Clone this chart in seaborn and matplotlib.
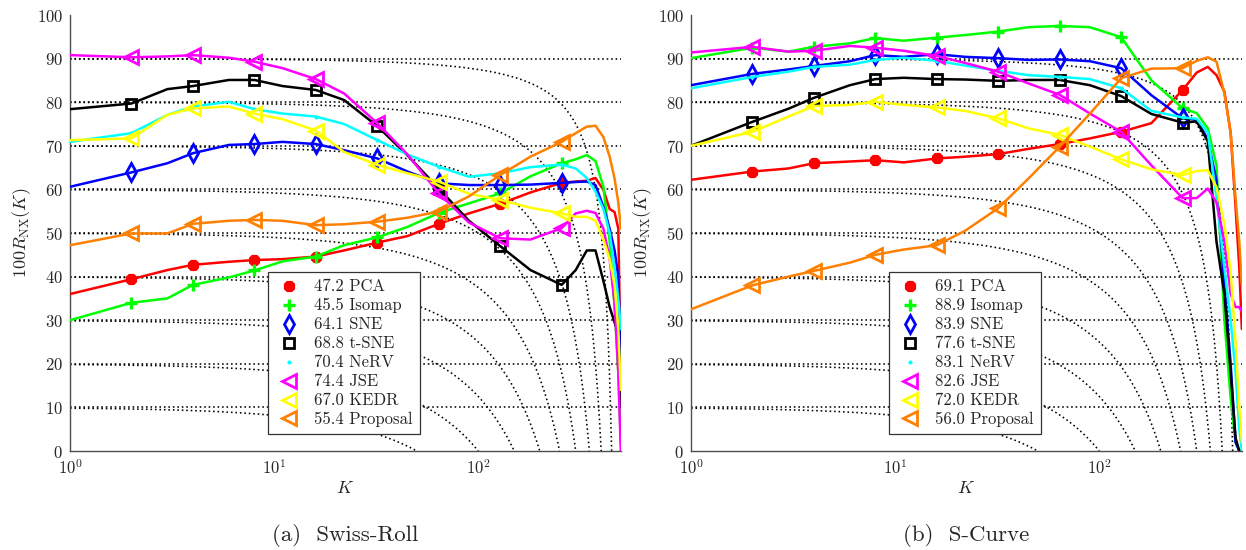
import numpy as np
import matplotlib
matplotlib.use("Agg")
import matplotlib.pyplot as plt
from matplotlib.lines import Line2D
from matplotlib.ticker import LogLocator, NullFormatter, FixedLocator
import seaborn as sns

# Neighbourhood sizes K at which the quality curves are sampled
K = [1, 2, 3, 4, 6, 8, 11, 16, 22, 32, 45, 64, 90, 128, 180, 256,
     300, 340, 375, 410, 440, 465, 485, 499]
MARKED_K = [2, 4, 8, 16, 32, 64, 128, 256]
N_MINUS_1 = 500  # number of points minus one (for the iso-Q_NX guides)

methods = ["PCA", "Isomap", "SNE", "t-SNE", "NeRV", "JSE", "KEDR", "Proposal"]

# ---- Swiss-Roll: 100 R_NX(K) ----
swiss_pca = [36.0, 39.4, 41.5, 42.7, 43.4, 43.8, 44.0, 44.6, 46.0, 47.8, 49.3, 52.1,
             54.5, 56.7, 59.3, 61.5, 61.8, 62.0, 62.6, 59.9, 55.5, 54.8, 51.0, 18.0]
swiss_isomap = [30.0, 34.0, 35.0, 38.1, 39.8, 41.4, 43.5, 44.6, 47.2, 49.0, 51.4, 54.6,
                56.8, 59.1, 63.0, 66.0, 66.9, 67.9, 66.5, 60.6, 48.0, 33.0, 18.0, 2.0]
swiss_sne = [60.6, 63.9, 66.0, 68.3, 70.2, 70.4, 70.9, 70.4, 69.0, 67.1, 64.1, 61.4,
             61.0, 61.0, 61.1, 61.5, 61.7, 61.8, 61.0, 56.0, 51.0, 46.0, 40.0, 22.0]
swiss_tsne = [78.4, 79.7, 83.0, 83.7, 85.1, 85.1, 83.7, 82.8, 80.5, 74.5, 67.8, 60.2,
              52.8, 47.0, 41.5, 38.1, 41.5, 46.0, 46.0, 39.0, 33.0, 29.5, 27.0, 10.0]
swiss_nerv = [70.9, 72.9, 77.1, 79.0, 80.1, 78.4, 77.4, 76.7, 75.0, 71.3, 68.0, 65.2,
              62.9, 63.7, 65.1, 65.7, 64.8, 62.6, 59.5, 55.5, 50.0, 42.0, 35.0, 28.0]
swiss_jse = [90.8, 90.3, 90.5, 90.8, 90.2, 89.3, 87.8, 85.3, 82.0, 75.2, 68.0, 59.1,
             52.4, 48.8, 48.5, 51.1, 54.5, 55.1, 54.6, 51.0, 44.0, 34.0, 18.0, 0.0]
swiss_kedr = [71.3, 71.7, 77.1, 78.6, 79.0, 77.4, 76.1, 73.5, 68.6, 65.6, 63.7, 61.8,
              59.0, 57.6, 55.8, 54.5, 53.7, 53.7, 52.8, 48.5, 44.0, 38.0, 28.0, 14.0]
swiss_proposal = [47.2, 49.9, 49.9, 52.1, 52.8, 53.0, 52.8, 51.8, 52.0, 52.6, 53.5, 54.9,
                  58.4, 63.3, 67.5, 70.9, 72.9, 74.4, 74.6, 72.0, 67.5, 62.5, 57.0, 51.0]
swiss_auc = [47.2, 45.5, 64.1, 68.8, 70.4, 74.4, 67.0, 55.4]

# ---- S-Curve: 100 R_NX(K) ----
scurve_pca = [62.2, 64.1, 64.8, 66.0, 66.4, 66.7, 66.2, 67.1, 67.5, 68.1, 69.3, 70.4,
              71.7, 73.2, 75.2, 82.8, 86.8, 88.1, 86.2, 82.4, 72.9, 56.0, 42.0, 28.0]
scurve_isomap = [90.1, 92.5, 91.6, 92.7, 93.5, 94.7, 94.1, 94.8, 95.4, 96.2, 97.2, 97.5,
                 97.2, 94.9, 85.0, 78.6, 77.5, 74.0, 65.5, 30.0, 12.0, 2.0, 0.0, 0.0]
scurve_sne = [83.9, 86.5, 87.5, 88.3, 89.4, 90.8, 90.4, 91.0, 90.4, 90.1, 89.7, 89.8,
              89.4, 87.8, 81.6, 76.3, 76.0, 71.5, 62.0, 38.0, 20.0, 2.0, 0.0, 0.0]
scurve_tsne = [70.0, 75.5, 78.5, 81.0, 83.9, 85.3, 85.6, 85.3, 85.2, 84.9, 85.1, 85.1,
               83.9, 81.4, 77.3, 75.3, 75.6, 71.0, 48.0, 36.0, 18.0, 3.0, 0.0, 0.0]
scurve_nerv = [83.2, 85.8, 87.0, 88.1, 88.6, 89.7, 90.2, 89.5, 88.4, 87.2, 86.2, 85.8,
               85.3, 83.2, 78.0, 76.5, 76.2, 73.0, 58.0, 42.0, 30.0, 18.0, 5.0, 0.0]
scurve_jse = [91.4, 92.7, 91.6, 91.8, 92.9, 92.5, 91.8, 90.6, 89.0, 87.0, 84.3, 81.7,
              77.4, 73.2, 65.5, 58.0, 58.0, 60.2, 57.0, 48.0, 36.0, 33.0, 33.0, 32.0]
scurve_kedr = [70.0, 73.2, 76.7, 79.1, 79.4, 80.1, 79.4, 78.8, 78.0, 76.3, 74.0, 72.5,
               69.8, 66.9, 64.6, 63.3, 64.2, 64.4, 60.5, 52.0, 41.0, 25.0, 10.0, 2.0]
scurve_proposal = [32.5, 38.0, 40.0, 41.3, 43.2, 45.0, 46.2, 47.2, 50.5, 55.7, 62.5, 69.8,
                   77.4, 85.5, 87.7, 87.8, 89.5, 90.3, 89.3, 82.0, 73.0, 58.0, 48.0, 38.0]
scurve_auc = [69.1, 88.9, 83.9, 77.6, 83.1, 82.6, 72.0, 56.0]

panels = [
    ("(a)  Swiss-Roll", [swiss_pca, swiss_isomap, swiss_sne, swiss_tsne,
                         swiss_nerv, swiss_jse, swiss_kedr, swiss_proposal], swiss_auc),
    ("(b)  S-Curve", [scurve_pca, scurve_isomap, scurve_sne, scurve_tsne,
                      scurve_nerv, scurve_jse, scurve_kedr, scurve_proposal], scurve_auc),
]

# Line / marker style per method
styles = {
    "PCA":      dict(color="#ff0000", marker=(8, 2, 0), ms=8, mew=2.8, mfc="#ff0000"),
    "Isomap":   dict(color="#00ff00", marker="+", ms=9, mew=2.4, mfc="#00ff00"),
    "SNE":      dict(color="#0000ff", marker="d", ms=9, mew=2.0, mfc="none"),
    "t-SNE":    dict(color="#000000", marker="s", ms=6.5, mew=2.0, mfc="none"),
    "NeRV":     dict(color="#00ffff", marker=".", ms=4, mew=1.0, mfc="#00ffff"),
    "JSE":      dict(color="#ff00ff", marker="<", ms=9.5, mew=2.0, mfc="none"),
    "KEDR":     dict(color="#ffff00", marker="<", ms=9.5, mew=2.0, mfc="none"),
    "Proposal": dict(color="#ff8000", marker="<", ms=9.5, mew=2.0, mfc="none"),
}

sns.set_theme(style="white")
plt.rcParams["font.family"] = ["cmr10", "DejaVu Serif"]
plt.rcParams["mathtext.fontset"] = "cm"
plt.rcParams["axes.unicode_minus"] = False
plt.rcParams["axes.formatter.use_mathtext"] = True

fig = plt.figure(figsize=(12.46, 5.5), dpi=100)
axes = [fig.add_axes([70 / 1246, 99 / 550, 551 / 1246, 436 / 550]),
        fig.add_axes([691 / 1246, 99 / 550, 551 / 1246, 436 / 550])]

mark_idx = [K.index(k) for k in MARKED_K]
axis_grey = "#4d4d4d"
text_col = "#262626"
dots = (0, (1, 1.8))

for ax, (caption, series, auc) in zip(axes, panels):
    # dotted guides: horizontal levels and iso-Q_NX curves
    for lev in range(1, 10):
        q = lev / 10
        ax.plot([1, N_MINUS_1], [lev * 10, lev * 10], color="black", lw=1.15,
                ls=dots, zorder=1)
        kk = np.logspace(0, np.log10(N_MINUS_1 * q), 300)
        rr = 100 * (N_MINUS_1 * q - kk) / (N_MINUS_1 - kk)
        ax.plot(kk, rr, color="black", lw=1.15, ls=dots, zorder=1)

    for name, vals in zip(methods, series):
        st = styles[name]
        sns.lineplot(x=K, y=vals, ax=ax, color=st["color"], lw=1.8,
                     marker=st["marker"], markersize=st["ms"],
                     markeredgewidth=st["mew"], markeredgecolor=st["color"],
                     markerfacecolor=st["mfc"], markevery=mark_idx,
                     legend=False, zorder=3, errorbar=None)

    ax.set_xscale("log")
    ax.set_xlim(1, N_MINUS_1)
    ax.set_ylim(0, 100)
    ax.set_yticks(range(0, 101, 10))
    ax.xaxis.set_major_locator(FixedLocator([1, 10, 100]))
    ax.xaxis.set_minor_locator(LogLocator(base=10, subs=np.arange(2, 10), numticks=20))
    ax.xaxis.set_minor_formatter(NullFormatter())
    ax.tick_params(axis="both", which="major", direction="in", length=5, width=0.8,
                   color=axis_grey, labelsize=12, labelcolor=text_col, pad=5)
    ax.tick_params(axis="x", which="minor", direction="in", length=3, width=0.8,
                   color=axis_grey)
    for side in ("top", "right"):
        ax.spines[side].set_visible(False)
    for side in ("left", "bottom"):
        ax.spines[side].set_color(axis_grey)
        ax.spines[side].set_linewidth(1.0)

    ax.set_xlabel(r"$K$", fontsize=13, color=text_col, labelpad=2)
    ax.set_ylabel(r"$100R_{\rm NX}(K)$", fontsize=13, color=text_col, labelpad=3)

    handles = []
    for name, a in zip(methods, auc):
        st = styles[name]
        handles.append(Line2D([], [], ls="none", color=st["color"], marker=st["marker"],
                              markersize=st["ms"], markeredgewidth=st["mew"],
                              markeredgecolor=st["color"], markerfacecolor=st["mfc"],
                              label=f"{a:.1f} {name}"))
    leg = ax.legend(handles=handles, loc="lower left", bbox_to_anchor=(0.359, 0.039),
                    fontsize=12, frameon=True, fancybox=False, framealpha=1,
                    edgecolor="#333333", handlelength=1.8, handletextpad=0.6,
                    labelspacing=0.22, borderpad=0.4, borderaxespad=0)
    leg.get_frame().set_linewidth(0.9)
    leg.set_zorder(5)
    for t in leg.get_texts():
        t.set_color(text_col)

    ax.text(0.5, -0.193, caption, transform=ax.transAxes, ha="center", va="center",
            fontsize=16.5, color=text_col)

fig.savefig("out.png", dpi=100)
